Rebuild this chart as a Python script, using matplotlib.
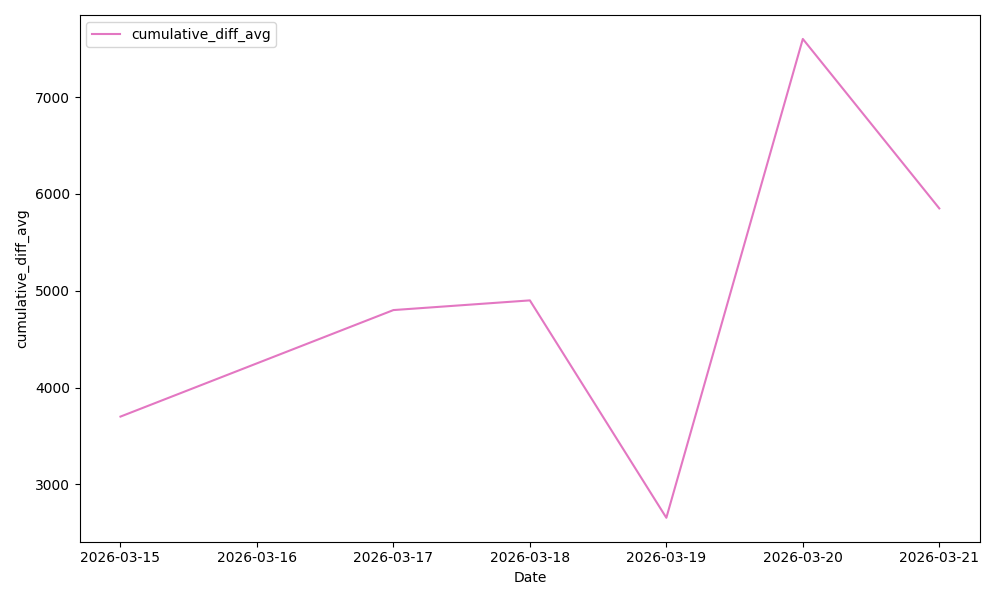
import matplotlib
matplotlib.use("Agg")
import matplotlib.pyplot as plt
import pandas as pd

# values
dates = ["2026-03-15", "2026-03-16", "2026-03-17", "2026-03-18",
         "2026-03-19", "2026-03-20", "2026-03-21"]
cumulative_diff_avg = [3700, 4250, 4800, 4900, 2655, 7600, 5850]

df = pd.DataFrame({"Date": pd.to_datetime(dates),
                   "cumulative_diff_avg": cumulative_diff_avg})

fig, ax = plt.subplots(figsize=(10, 6), dpi=100)
ax.plot(df["Date"], df["cumulative_diff_avg"], color="#e377c2",
        label="cumulative_diff_avg")
ax.set_xticks(df["Date"])
ax.set_xticklabels(dates)
ax.set_xlabel("Date")
ax.set_ylabel("cumulative_diff_avg")
ax.legend(loc="upper left")

plt.tight_layout()
plt.savefig("out.png")
plt.close()
